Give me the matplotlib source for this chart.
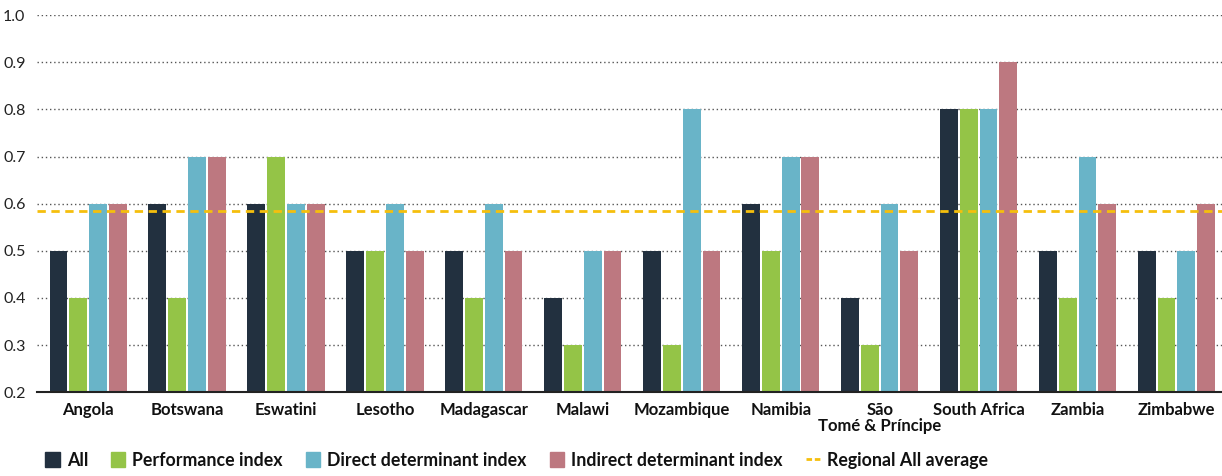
import matplotlib
matplotlib.use("Agg")
import matplotlib.pyplot as plt
import numpy as np
from matplotlib.patches import Patch
from matplotlib.lines import Line2D

countries = ["Angola", "Botswana", "Eswatini", "Lesotho", "Madagascar", "Malawi",
             "Mozambique", "Namibia", "São\nTomé & Príncipe", "South Africa", "Zambia", "Zimbabwe"]
all_idx = [0.5, 0.6, 0.6, 0.5, 0.5, 0.4, 0.5, 0.6, 0.4, 0.8, 0.5, 0.5]
performance = [0.4, 0.4, 0.7, 0.5, 0.4, 0.3, 0.3, 0.5, 0.3, 0.8, 0.4, 0.4]
direct = [0.6, 0.7, 0.6, 0.6, 0.6, 0.5, 0.8, 0.7, 0.6, 0.8, 0.7, 0.5]
indirect = [0.6, 0.7, 0.6, 0.5, 0.5, 0.5, 0.5, 0.7, 0.5, 0.9, 0.6, 0.6]
regional_avg = 0.585
yticks = [0.2, 0.3, 0.4, 0.5, 0.6, 0.7, 0.8, 0.9, 1.0]

series = [("All", all_idx, "#22303f"),
          ("Performance index", performance, "#94c447"),
          ("Direct determinant index", direct, "#69b4c8"),
          ("Indirect determinant index", indirect, "#bd7880")]

plt.rcParams['font.family'] = ['Lato', 'DejaVu Sans']

fig = plt.figure(figsize=(12.22, 4.76), dpi=100)
ax = fig.add_axes([0.030, 0.176, 0.970, 0.792])

x = np.arange(len(countries))
step = 0.2
w = 0.18
for i, (name, vals, col) in enumerate(series):
    ax.bar(x + (i - 1.5) * step, vals, width=w, color=col, zorder=2)

ax.axhline(regional_avg, color="#f5bf0d", lw=2, ls=(0, (3, 2)), zorder=3)

ax.set_ylim(0.2, 1.0)
ax.set_xlim(-0.52, 11.46)
ax.set_yticks(yticks)
ax.set_yticklabels([f"{v:.1f}" for v in yticks], fontsize=11.5, color="#222222")
ax.set_xticks(x)
ax.set_xticklabels(countries, fontsize=12, fontweight="bold", color="#111111",
                   linespacing=1.0)
ax.tick_params(axis="x", length=0, pad=7)
ax.tick_params(axis="y", length=0, pad=8)
for yv in yticks[1:]:
    ax.axhline(yv, color="#555555", lw=1, ls=(0, (1, 2)), zorder=1)
for s in ["top", "right", "left"]:
    ax.spines[s].set_visible(False)
ax.spines["bottom"].set_color("#222222")
ax.spines["bottom"].set_linewidth(1.5)
ax.spines["bottom"].set_zorder(4)

handles = [Patch(color=c, label=n) for n, _, c in series]
handles.append(Line2D([0], [0], color="#f5bf0d", lw=2, ls=(0, (2, 1)), label="Regional All average"))
leg = fig.legend(handles=handles, loc="lower left", bbox_to_anchor=(0.024, -0.018), ncol=5,
                 frameon=False, prop={"size": 12.8, "weight": "bold"},
                 handlelength=0.8, handleheight=0.9, handletextpad=0.4, columnspacing=1.3)
for t in leg.get_texts():
    t.set_color("#111111")

fig.savefig("out.png", dpi=100)
